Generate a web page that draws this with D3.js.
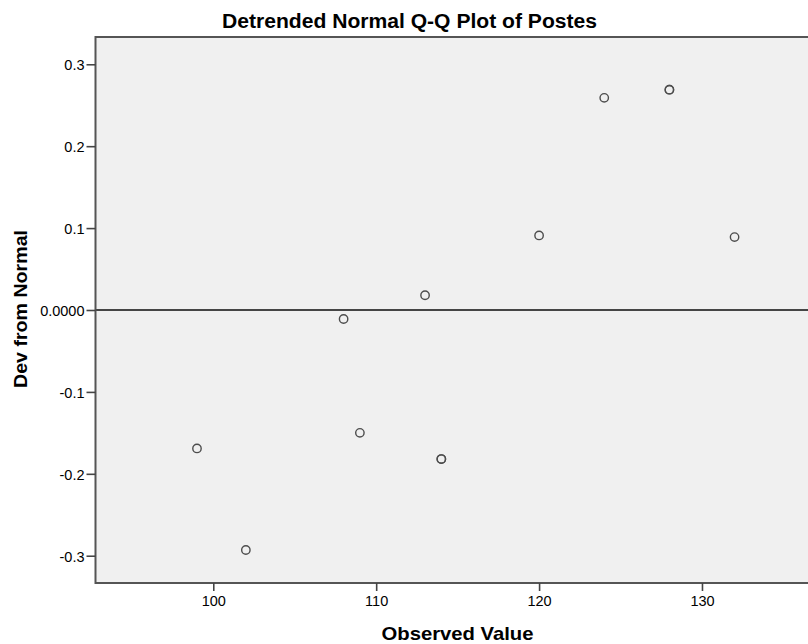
<!DOCTYPE html>
<html>
<head>
<meta charset="utf-8">
<script src="https://cdn.jsdelivr.net/npm/d3@7"></script>
<style>
  html, body { margin: 0; padding: 0; background: #ffffff; }
  svg { display: block; }
  text { font-family: "Liberation Sans", Arial, sans-serif; fill: #000; }
</style>
</head>
<body>
<svg id="chart" width="808" height="644"></svg>
<script>
// ---- data ----
const observedValues = [99, 102, 108, 109, 113, 114, 114, 120, 124, 128, 128, 132];
const devFromNormal  = [-0.169, -0.293, -0.011, -0.150, 0.018, -0.182, -0.182, 0.091, 0.259, 0.269, 0.269, 0.089];
const xTickValues = [100, 110, 120, 130];
const xTickLabels = ["100", "110", "120", "130"];
const yTickValues = [-0.3, -0.2, -0.1, 0, 0.1, 0.2, 0.3];
const yTickLabels = ["-0.3", "-0.2", "-0.1", "0.0000", "0.1", "0.2", "0.3"];
const xDomain = [92.77, 140];
const yDomain = [-0.3333, 0.3333];
const titleText = "Detrended Normal Q-Q Plot of Postes";
const xTitle = "Observed Value";
const yTitle = "Dev from Normal";

(function () {
const points = observedValues.map((v, i) => ({ x: v, y: devFromNormal[i] }));

const svg = d3.select("#chart");
const plotLeft = 95.5, plotTop = 37, plotBottom = 583;
const pxPerUnit = 16.29;
const plotRight = plotLeft + (xDomain[1] - xDomain[0]) * pxPerUnit;

const x = d3.scaleLinear().domain(xDomain).range([plotLeft, plotRight]);
const y = d3.scaleLinear().domain(yDomain).range([plotBottom, plotTop]);

// plot background
svg.append("rect")
  .attr("x", plotLeft).attr("y", plotTop)
  .attr("width", plotRight - plotLeft).attr("height", plotBottom - plotTop)
  .attr("fill", "#f0f0f0");

// zero reference line
svg.append("line")
  .attr("x1", plotLeft).attr("x2", plotRight)
  .attr("y1", y(0)).attr("y2", y(0))
  .attr("stroke", "#454545").attr("stroke-width", 2);

// points
svg.append("g").selectAll("circle")
  .data(points)
  .join("circle")
  .attr("cx", d => x(d.x))
  .attr("cy", d => y(d.y))
  .attr("r", 4.2)
  .attr("fill", "none")
  .attr("stroke", "#4d4d4d")
  .attr("stroke-width", 1.4);

// frame
svg.append("rect")
  .attr("x", plotLeft).attr("y", plotTop)
  .attr("width", plotRight - plotLeft).attr("height", plotBottom - plotTop)
  .attr("fill", "none")
  .attr("stroke", "#555").attr("stroke-width", 2);

// axes
const yAxis = d3.axisLeft(y)
  .tickValues(yTickValues)
  .tickFormat((d, i) => yTickLabels[i])
  .tickSize(9).tickPadding(2);
const gy = svg.append("g").attr("transform", `translate(${plotLeft},0)`).call(yAxis);
gy.select(".domain").remove();
gy.selectAll(".tick line").attr("stroke", "#444").attr("stroke-width", 1.6);
gy.selectAll(".tick text")
  .style("font-family", "'Liberation Sans', Arial, sans-serif")
  .style("font-size", "14.5px").attr("fill", "#000").attr("dy", "0.38em");

const xAxis = d3.axisBottom(x)
  .tickValues(xTickValues)
  .tickFormat((d, i) => xTickLabels[i])
  .tickSize(8).tickPadding(5);
const gx = svg.append("g").attr("transform", `translate(0,${plotBottom})`).call(xAxis);
gx.select(".domain").remove();
gx.selectAll(".tick line").attr("stroke", "#444").attr("stroke-width", 1.6);
gx.selectAll(".tick text")
  .style("font-family", "'Liberation Sans', Arial, sans-serif")
  .style("font-size", "14.5px").attr("fill", "#000");

// titles
svg.append("text")
  .attr("x", 409.5).attr("y", 28)
  .attr("text-anchor", "middle")
  .style("font-size", "20px").style("font-weight", "bold")
  .attr("textLength", 375).attr("lengthAdjust", "spacingAndGlyphs")
  .text(titleText);

svg.append("text")
  .attr("x", 457.5).attr("y", 640)
  .attr("text-anchor", "middle")
  .style("font-size", "19px").style("font-weight", "bold")
  .attr("textLength", 152).attr("lengthAdjust", "spacingAndGlyphs")
  .text(xTitle);

svg.append("text")
  .attr("transform", `translate(27,309) rotate(-90)`)
  .attr("text-anchor", "middle")
  .style("font-size", "19px").style("font-weight", "bold")
  .attr("textLength", 158).attr("lengthAdjust", "spacingAndGlyphs")
  .text(yTitle);
})();
</script>
</body>
</html>
